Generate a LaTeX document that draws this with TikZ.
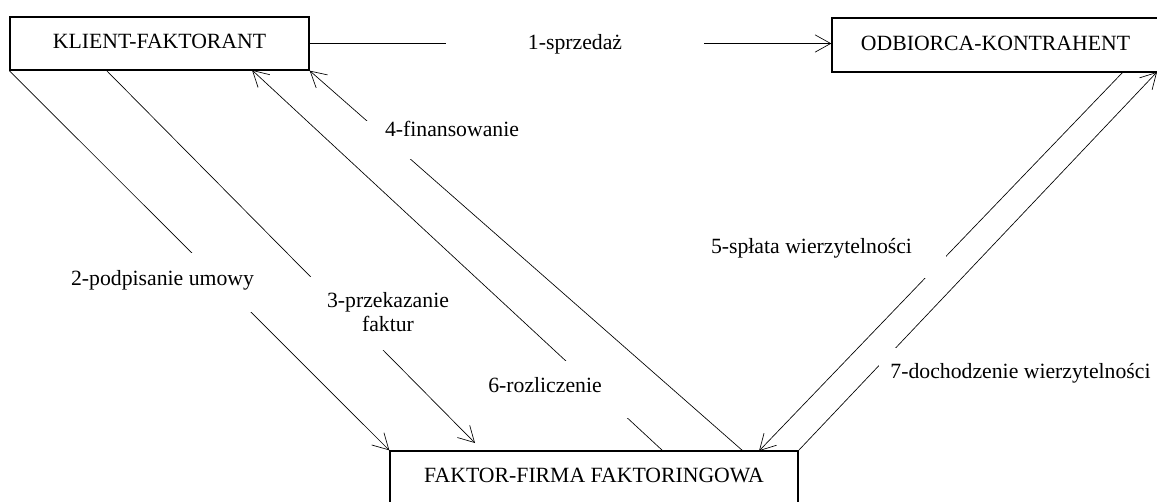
\documentclass[tikz,border=0pt]{standalone}
\usepackage{fontspec}
\setmainfont{Liberation Serif}
\usetikzlibrary{arrows.meta}
\begin{document}
\begin{tikzpicture}[x=0.75pt,y=-0.75pt,
  every node/.style={font=\fontsize{16.3}{18.4}\selectfont, inner sep=0pt},
  party/.style={draw, line width=1pt, anchor=base},
  flow/.style={line width=0.5pt, -{Straight Barb[length=11.7pt,width=13pt]}},
  tag/.style={fill=white, anchor=base}]
\useasboundingbox (0,0) rectangle (1157,501);
\clip (0,0) rectangle (1157,501);

% the three parties
\node[party, minimum width=224.25pt, text height=23.25pt, text depth=16.5pt] (K) at (159.5,48) {KLIENT-FAKTORANT};
\node[party, minimum width=245.25pt, text height=24pt, text depth=16.5pt] (O) at (995.5,50) {ODBIORCA-KONTRAHENT};
\node[party, minimum width=306pt, text height=23.25pt, text depth=22pt] (F) at (594,482) {FAKTOR-FIRMA FAKTORINGOWA};

% attachment points on the box edges
\coordinate (k3) at (106,70);
\coordinate (k6) at (252,70);
\coordinate (f3) at (475,443);
\coordinate (f6) at (663,451);
\coordinate (f4) at (743,451);
\coordinate (f5) at (759,451);
\coordinate (o5) at (1123,72);
\coordinate (o7) at (1157,72);

% flows between the parties
\draw[flow] (K.east) -- (K.east -| O.west);
\draw[flow] (K.south west) -- (F.north west);
\draw[flow] (k3) -- (f3);
\draw[flow] (f4) -- (K.south east);
\draw[flow] (f6) -- (k6);
\draw[flow] (o5) -- (f5);
\draw[flow] (F.north east) -- (o7);

% step labels, white boxes interrupt the lines
\node[tag, minimum width=193.5pt, text height=12pt, text depth=4pt] (l1) at (575,49) {1-sprzedaż};
\node[tag, minimum width=142.5pt, text height=24pt, text depth=20.25pt] (l2) at (162.5,285) {2-podpisanie umowy};
\node[tag, text width=117pt, align=center, text height=22.5pt, text depth=32.25pt] (l3) at (388,307) {3-przekazanie\\faktur};
\node[tag, minimum width=129pt, text height=11.25pt, text depth=17.25pt] (l4) at (452,136) {4-finansowanie};
\node[tag, minimum width=201.75pt, text height=15.75pt, text depth=18.75pt] (l5) at (811.5,253) {5-spłata wierzytelności};
\node[tag, minimum width=127.5pt, text height=23.25pt, text depth=19.5pt] (l6) at (545,392) {6-rozliczenie};
\node[tag, minimum width=212.25pt, text height=22.5pt, text depth=7.5pt] (l7) at (1020.5,378) {7-dochodzenie wierzytelności};
\end{tikzpicture}
\end{document}
